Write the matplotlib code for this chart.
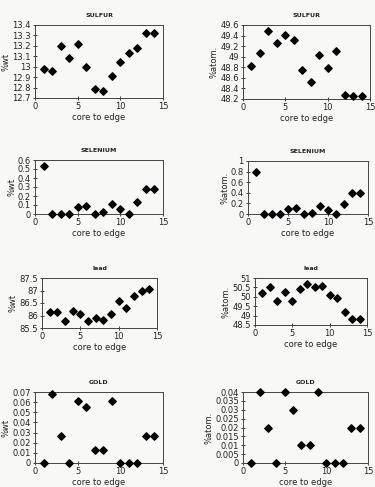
import numpy as np
import matplotlib
matplotlib.use('Agg')
import matplotlib.pyplot as plt
from matplotlib.ticker import FuncFormatter, MultipleLocator

# position from core to edge
x = list(range(1, 15))

# sulfur
sulfur_wt = [12.98, 12.96, 13.20, 13.08, 13.22, 13.00, 12.79, 12.77, 12.91, 13.05, 13.13, 13.18, 13.32, 13.32]
sulfur_at = [48.82, 49.07, 49.48, 49.26, 49.42, 49.32, 48.75, 48.53, 49.03, 48.79, 49.11, 48.28, 48.26, 48.26]
# selenium
selenium_wt = [0.53, 0, 0, 0, 0.08, 0.09, 0, 0.02, 0.11, 0.06, 0, 0.13, 0.28, 0.28]
selenium_at = [0.79, 0, 0, 0, 0.10, 0.12, 0, 0.02, 0.16, 0.08, 0, 0.18, 0.39, 0.39]
# lead
lead_wt = [86.15, 86.15, 85.80, 86.18, 86.07, 85.80, 85.90, 85.82, 86.05, 86.58, 86.30, 86.78, 87.00, 87.05]
lead_at = [50.20, 50.50, 49.80, 50.25, 49.80, 50.40, 50.70, 50.50, 50.60, 50.10, 49.95, 49.20, 48.80, 48.80]
# gold
gold_wt = [0, 0.068, 0.027, 0, 0.061, 0.055, 0.013, 0.013, 0.061, 0, 0, 0, 0.027, 0.027]
gold_at = [0, 0.04, 0.02, 0, 0.04, 0.03, 0.01, 0.01, 0.04, 0, 0, 0, 0.02, 0.02]

W, H = 375, 487
fig = plt.figure(figsize=(W / 100, H / 100), dpi=100)
fig.patch.set_facecolor('#f8f8f6')

# (title, ylabel, data, ylim, ystep, box in pixels: left, top, right, bottom)
panels = [
    ('SULFUR', '%wt', sulfur_wt, (12.7, 13.4), 0.1, (35, 25, 163, 98)),
    ('SULFUR', '%atom.', sulfur_at, (48.2, 49.6), 0.2, (243, 25, 370, 99)),
    ('SELENIUM', '%wt', selenium_wt, (0, 0.6), 0.1, (35, 160, 163, 214)),
    ('SELENIUM', '%atom.', selenium_at, (0, 1), 0.2, (248, 161, 368, 214)),
    ('lead', '%wt', lead_wt, (85.5, 87.5), 0.5, (42, 278, 157, 328)),
    ('lead', '%atom.', lead_at, (48.5, 51), 0.5, (255, 278, 367, 325)),
    ('GOLD', '%wt', gold_wt, (0, 0.07), 0.01, (35, 392, 163, 463)),
    ('GOLD', '%atom.', gold_at, (0, 0.04), 0.005, (243, 392, 368, 463)),
]

fmt = FuncFormatter(lambda v, p: ('%.4f' % v).rstrip('0').rstrip('.'))

for title, ylab, vals, ylim, step, (l, t, r, b) in panels:
    ax = fig.add_axes([l / W, 1 - b / H, (r - l) / W, (b - t) / H])
    ax.set_facecolor('#f8f8f6')
    ax.scatter(x, vals, marker='D', s=14, color='black', zorder=3, clip_on=False)
    ax.set_xlim(0, 15)
    ax.set_ylim(*ylim)
    ax.xaxis.set_major_locator(MultipleLocator(5))
    ax.yaxis.set_major_locator(MultipleLocator(step))
    ax.yaxis.set_major_formatter(fmt)
    ax.tick_params(direction='inout', length=3, width=0.6, labelsize=6, pad=1.5, colors='#222222')
    ax.tick_params(right=False, top=False)
    for s in ax.spines.values():
        s.set_linewidth(0.7)
        s.set_color('#444444')
    ax.set_title(title, fontsize=4.5, fontweight='bold', pad=6, color='#222222')
    ax.set_xlabel('core to edge', fontsize=6, labelpad=1, color='#222222')
    ax.set_ylabel(ylab, fontsize=6, labelpad=1, color='#222222')

fig.savefig('out.png', dpi=100, facecolor=fig.get_facecolor())
